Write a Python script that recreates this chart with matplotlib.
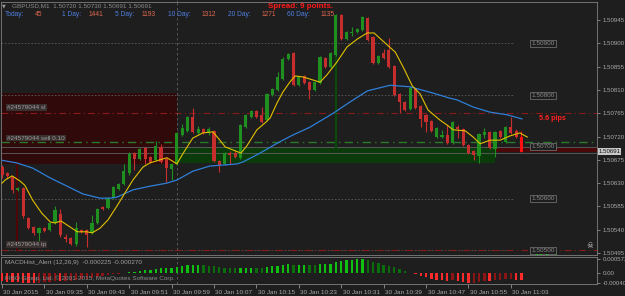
import numpy as np
import matplotlib.pyplot as plt
from matplotlib.lines import Line2D
from matplotlib.transforms import ScaledTranslation

# GBPUSD M1, 30 Jan 2015 from 09:27, prices as last digits (1.50xxx)
opens = [661, 650, 642, 617, 621, 563, 545, 534, 543, 540, 553, 570, 526, 524, 512, 540, 540, 534, 553, 584,
         582, 601, 619, 628, 650, 688, 677, 698, 680, 675, 700, 677, 657, 667, 723, 731, 758, 727, 735, 727,
         731, 673, 667, 688, 688, 679, 738, 758, 769, 762, 752, 800, 810, 831, 870, 881, 819, 837, 825, 810,
         823, 872, 854, 877, 955, 908, 920, 922, 926, 949, 912, 862, 881, 887, 856, 802, 787, 773, 812, 779,
         762, 750, 719, 719, 723, 708, 738, 735, 704, 692, 682, 723, 729, 696, 731, 709, 738, 731, 720]
highs = [665, 652, 644, 623, 623, 565, 547, 545, 545, 555, 586, 580, 532, 526, 555, 542, 542, 568, 582, 586,
         603, 624, 630, 667, 690, 690, 698, 700, 682, 711, 706, 679, 669, 729, 744, 760, 775, 740, 737, 738,
         733, 675, 690, 692, 694, 744, 764, 771, 771, 777, 804, 814, 845, 874, 881, 883, 837, 839, 827, 827,
         876, 874, 883, 957, 957, 924, 931, 930, 953, 951, 914, 877, 889, 910, 858, 804, 789, 816, 814, 781,
         764, 752, 738, 733, 742, 750, 742, 737, 706, 694, 727, 736, 731, 731, 733, 740, 758, 735, 730]
lows = [640, 640, 611, 615, 563, 541, 530, 512, 536, 538, 551, 526, 516, 511, 509, 534, 507, 532, 551, 578,
        580, 599, 617, 626, 646, 655, 675, 667, 669, 673, 669, 632, 636, 665, 721, 729, 727, 725, 725, 723,
        671, 651, 665, 667, 679, 677, 736, 756, 756, 746, 750, 798, 808, 829, 868, 817, 817, 821, 792, 808,
        821, 852, 852, 875, 906, 906, 914, 920, 924, 904, 860, 860, 870, 852, 798, 765, 769, 771, 773, 738,
        729, 729, 717, 717, 706, 706, 717, 702, 686, 675, 669, 717, 696, 680, 717, 707, 725, 717, 691]
closes = [646, 644, 617, 621, 567, 543, 534, 543, 538, 553, 578, 530, 522, 512, 543, 536, 530, 553, 580, 580,
          601, 623, 628, 653, 686, 677, 696, 677, 671, 702, 671, 659, 667, 727, 736, 758, 729, 735, 727, 735,
          673, 665, 688, 684, 680, 742, 762, 769, 758, 748, 802, 812, 835, 870, 879, 819, 835, 823, 810, 825,
          874, 854, 881, 955, 908, 922, 922, 928, 951, 906, 862, 875, 872, 854, 800, 787, 771, 814, 775, 754,
          748, 731, 736, 723, 708, 748, 735, 704, 688, 684, 725, 729, 698, 729, 719, 738, 727, 719, 691]

# moving averages: (bar index, price digits)
fast_x = [0, 0.6, 1.9, 3.4, 4.3, 5.8, 7.5, 9.1, 10.0, 11.1, 12.3, 14.2, 16.0, 17.0, 18.5, 20.0, 21.7, 23.2,
          24.7, 26.6, 27.9, 29.8, 31.1, 32.1, 33.0, 34.2, 36.0, 37.9, 39.8, 41.1, 42.1, 43.6, 45.1, 46.2, 48.1,
          49.6, 50.6, 51.9, 53.0, 54.3, 55.3, 56.8, 58.1, 60.0, 61.3, 63.2, 65.1, 67.0, 68.9, 70.2, 71.7, 74.2,
          75.7, 77.4, 78.9, 80.4, 82.6, 84.0, 85.1, 87.4, 88.9, 90.2, 92.1, 94.0, 95.8, 97.7, 99.1]
fast_y = [630, 636, 644, 634, 626, 597, 572, 555, 553, 557, 549, 536, 536, 534, 543, 559, 586, 611,
          636, 661, 669, 675, 679, 673, 667, 688, 717, 727, 729, 713, 700, 694, 688, 702, 733,
          746, 756, 785, 806, 825, 837, 835, 831, 825, 839, 864, 893, 908, 920, 920, 906, 883,
          854, 818, 802, 771, 752, 742, 733, 731, 719, 706, 713, 713, 721, 727, 719]
slow_x = [0, 2.8, 5.8, 9.1, 12.3, 15.3, 18.5, 20.4, 21.7, 24.7, 27.9, 31.1, 33.0, 36.0, 39.2, 44.3, 45.5,
          48.7, 51.9, 54.9, 58.1, 59.4, 62.5, 65.7, 68.9, 73.2, 77.0, 81.3, 84.5, 85.8, 88.9, 92.1, 95.3, 98.1]
slow_y = [674, 669, 659, 640, 624, 609, 601, 601, 603, 617, 624, 630, 636, 653, 663, 667, 671,
          688, 707, 723, 738, 746, 765, 787, 808, 819, 816, 804, 794, 791, 777, 767, 762, 754]

# MACD histogram, units of 1e-4
macd = [-3.0, -3.3, -3.6, -3.6, -3.9, -4.0, -4.0, -3.8, -3.6, -3.4, -3.0, -3.1, -3.0, -2.9, -2.5, -2.3,
        -2.2, -1.8, -1.4, -1.0, -0.7, -0.4, -0.1,
        0.2, 0.4, 0.6, 0.9, 1.2, 1.5, 1.8, 2.0, 2.2, 2.3, 2.6, 3.0, 3.2, 3.3, 3.3, 3.2,
        2.9, 2.8, 2.5, 2.3, 2.2, 2.1, 2.1, 2.2, 2.3, 2.2, 2.1,
        2.5, 2.8, 3.1, 3.4, 3.6, 3.3, 3.4, 3.5, 3.4, 3.3, 3.6, 3.7, 3.9, 4.5,
        4.9, 5.2, 5.4, 5.6, 5.7, 5.3, 4.6, 4.0, 3.4, 3.0, 2.4, 1.7, 0.9, 0.2,
        -0.3, -0.9, -1.5, -2.2, -2.6, -2.8, -3.0, -2.8, -3.0, -3.3, -3.9, -3.7, -3.3, -3.0, -3.2, -2.8,
        -2.6, -2.4, -2.3, -2.5, -2.7]

time_labels = ['30 Jan 2015', '30 Jan 09:35', '30 Jan 09:43', '30 Jan 09:51', '30 Jan 09:59',
               '30 Jan 10:07', '30 Jan 10:15', '30 Jan 10:23', '30 Jan 10:31', '30 Jan 10:39',
               '30 Jan 10:47', '30 Jan 10:55', '30 Jan 11:03']
price_ticks = [1.50945, 1.50900, 1.50855, 1.50810, 1.50765, 1.50720, 1.50675, 1.50630, 1.50585,
               1.50540, 1.50495]
levels = [1.50900, 1.50800, 1.50700, 1.50600, 1.50500]
stats_names = ['Today:', '1 Day:', '5 Day:', '10 Day:', '20 Day:', '60 Day:']
stats_vals = ['45', '1441', '1193', '1312', '1271', '1135']

entry, stop, target = 1.50709, 1.50765, 1.50500
bid = 1.50691


def px(p):
    return 1.5 + np.asarray(p) * 1e-5


BG = '#1e1e1e'
GRID = '#808080'
TXT = '#a8a8a8'
UP = '#1f8f1f'
DN = '#c62d2d'
FONT = 'Liberation Sans'

plt.rcParams['font.family'] = [FONT, 'DejaVu Sans']

fig = plt.figure(figsize=(6.25, 2.96), dpi=100, facecolor=BG)
W, H = 625, 296
ax = fig.add_axes([0.5 / W, 1 - 255 / H, 596.5 / W, 253 / H], facecolor=BG)
ax2 = fig.add_axes([0.5 / W, 1 - 284 / H, 596.5 / W, 27 / H], facecolor=BG)

xl = (-0.28, 112.26)
ax.set_xlim(*xl)
ax2.set_xlim(*xl)
ax.set_ylim(1.504912, 1.509798)

o, h, l, c = px(opens), px(highs), px(lows), px(closes)
idx = np.arange(len(o))

# zones and order lines
ax.fill_between([xl[0], 33.0], 1.50667, 1.50804, color='#300a0a', lw=0, zorder=0)
ax.fill_between([33.0, 93.0], 1.50669, 1.50700, color='#0b3a0b', lw=0, zorder=0)
ax.fill_between([93.0, xl[1]], 1.50690, 1.50698, color='#4a0808', lw=0, zorder=0)
ax.axhline(1.50700, color='#5e5e5e', lw=0.6, zorder=1)
ax.axhline(1.50688, color='#5e5e5e', lw=0.6, zorder=1)
for lv in levels:
    ax.plot([xl[0], 96.5], [lv, lv], color='#5a5a5a', lw=0.6, ls=(0, (2, 2)), zorder=1)
ax.axhline(stop, color='#8a1a1a', lw=0.8, ls=(0, (6, 3, 1, 3)), zorder=1)
ax.axhline(target, color='#8a1a1a', lw=0.8, ls=(0, (6, 3, 1, 3)), zorder=1)
ax.axhline(entry, color='#2a7a2a', lw=1.0, ls=(0, (6, 3, 1, 3)), zorder=1)
ax.axvline(33.0, color='#606060', lw=0.6, ls=(0, (3, 3)), zorder=1)
ax2.axvline(33.0, color='#606060', lw=0.6, ls=(0, (3, 3)), zorder=1)
ax.plot([2.83, 2.83], [1.50667, 1.50500], color='#5a0000', lw=1.2, zorder=1)
ax.plot([63.0, 63.0], [1.50877, 1.50700], color='#0a4a0a', lw=1.6, zorder=1)

# candles
col = [UP if cc >= oo else DN for oo, cc in zip(o, c)]
col[-1] = '#ff1010'
ax.vlines(idx, l, h, colors=col, lw=0.8, zorder=3)
ax.bar(idx, np.maximum(np.abs(c - o), 1.2e-5), bottom=np.minimum(o, c), width=0.6,
       color=col, lw=0, zorder=4)

# moving averages
ax.plot(slow_x, px(slow_y), color='#2f7fd8', lw=0.9, zorder=5)
ax.plot(fast_x, px(fast_y), color='#e0c000', lw=0.8, zorder=5)

# labels on chart
box = dict(facecolor='#3a3030', edgecolor='none', pad=0.6)
ax.text(1.0, 1.50776, '#24579044 sl', color='#9a9a9a', fontsize=4.6, va='center', bbox=box, zorder=6)
ax.text(1.0, 1.50717, '#24579044 sell 0.10', color='#9a9a9a', fontsize=4.6, va='center', bbox=box, zorder=6)
ax.text(1.0, 1.50512, '#24579044 tp', color='#9a9a9a', fontsize=4.6, va='center', bbox=box, zorder=6)
for lv in levels:
    ax.text(102.1, lv, '%.5f' % lv, color='#8a8a8a', fontsize=4.6, ha='center', va='center', zorder=6,
            bbox=dict(facecolor=BG, edgecolor='#6a6a6a', lw=0.6, pad=0.8))
ax.text(103.8, 1.50755, '5.6 pips', color='#ff2020', fontsize=5.2, fontweight='bold',
        ha='center', va='center', zorder=6)
ax.text(103.4, 1.50486, '21.0 pips', color='#20c020', fontsize=5.2, fontweight='bold',
        ha='center', va='center', zorder=6, clip_on=True)
ax.text(110.9, 1.50509, '\u2620', color='#c8c8c8', fontsize=5.5, ha='center', va='center',
        family='DejaVu Sans', zorder=6)

# price axis
ax.yaxis.tick_right()
ax.set_yticks(price_ticks)
ax.set_yticklabels(['%.5f' % p for p in price_ticks])
ax.tick_params(axis='y', colors=TXT, labelsize=4.4, length=2, width=0.5, pad=2)
ax.set_xticks([])
ax.text(1.0025, bid, '%.5f' % bid, transform=ax.get_yaxis_transform(), fontsize=4.4, color='#101010',
        va='center', ha='left', bbox=dict(facecolor='#c8c8c8', edgecolor='none', pad=0.5), clip_on=False)

# MACD panel
m = np.array(macd) * 1e-4
mcol = []
for k, v in enumerate(m):
    prev = m[k - 1] if k > 0 else 0
    grow = abs(v) >= abs(prev)
    if v >= 0:
        mcol.append('#10c010' if grow else '#0a6e0a')
    else:
        mcol.append('#ff2a2a' if grow else '#8c1414')
ax2.bar(idx, m, width=0.45, color=mcol, lw=0, zorder=3)
ax2.set_ylim(-0.00043, 0.00066)
ax2.yaxis.tick_right()
ax2.set_yticks([0.000572, 0.0, -0.000404])
ax2.set_yticklabels(['0.000572', '0.00', '-0.000404'])
ax2.tick_params(axis='y', colors=TXT, labelsize=4.4, length=2, width=0.5, pad=2)
ax2.set_xticks(np.arange(0, 99, 8))
ax2.set_xticklabels(time_labels)
ax2.tick_params(axis='x', colors=TXT, labelsize=4.6, length=3, width=0.5, pad=1.5)
shift = ScaledTranslation(1.5 / 100, 0, fig.dpi_scale_trans)
for lab in ax2.get_xticklabels():
    lab.set_horizontalalignment('left')
    lab.set_transform(lab.get_transform() + shift)
ax2.text(0.008, 0.78, 'MACDHist_Alert (12,26,9)  -0.000225 -0.000270', transform=ax2.transAxes,
         color='#a0a0a0', fontsize=4.6, va='center', zorder=6)
ax2.text(0.008, 0.2, 'FIBO Group, Ltd. \u00a9 2001-2015, MetaQuotes Software Corp.',
         transform=ax2.transAxes, color='#8a8a8a', fontsize=4.6, va='center', zorder=6)

for a in (ax, ax2):
    for s in a.spines.values():
        s.set_color(GRID)
        s.set_linewidth(0.6)

# header
fig.add_artist(Line2D([177 / W, 177 / W], [1 - 2 / H, 1], color='#606060', lw=0.6, ls=(0, (3, 3))))
fig.text(2 / W, 1 - 6 / H, '\u25bc', color='#9a9a9a', fontsize=3.5, va='center', family='DejaVu Sans')
fig.text(12 / W, 1 - 6 / H, 'GBPUSD,M1  1.50720 1.50730 1.50691 1.50691', color='#8c8c8c',
         fontsize=4.6, va='center')
fig.text(268 / W, 1 - 7 / H, 'Spread: 9 points.', color='#ff1a1a', fontsize=5.8, fontweight='bold',
         va='center')
name_x = [5, 62, 115, 168, 228, 287]
val_x = [35, 89, 142, 202, 262, 321]
for nm, vl, nx, vx in zip(stats_names, stats_vals, name_x, val_x):
    fig.text(nx / W, 1 - 14.7 / H, nm, color='#4f7fe0', fontsize=4.8, va='center')
    fig.text(vx / W, 1 - 14.7 / H, vl, color='#e0674f', fontsize=4.8, va='center')

fig.savefig('out.png', dpi=100, facecolor=BG)
